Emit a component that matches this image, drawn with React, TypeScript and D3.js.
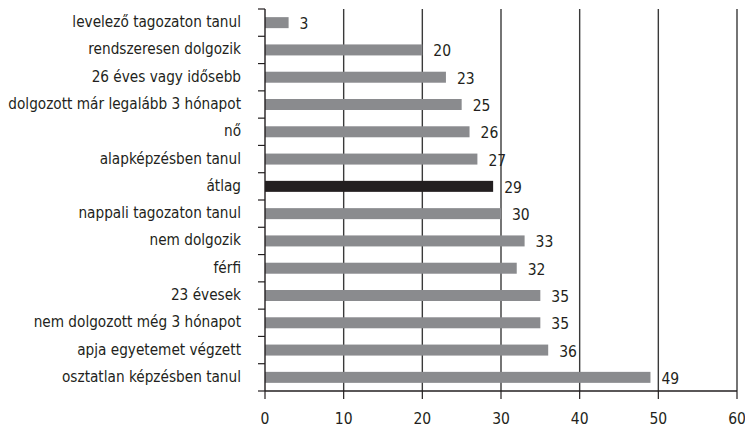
import React from "react";
import * as d3 from "d3";

const categories = [
  "levelező tagozaton tanul",
  "rendszeresen dolgozik",
  "26 éves vagy idősebb",
  "dolgozott már legalább 3 hónapot",
  "nő",
  "alapképzésben tanul",
  "átlag",
  "nappali tagozaton tanul",
  "nem dolgozik",
  "férfi",
  "23 évesek",
  "nem dolgozott még 3 hónapot",
  "apja egyetemet végzett",
  "osztatlan képzésben tanul",
];
const values = [3, 20, 23, 25, 26, 27, 29, 30, 33, 32, 35, 35, 36, 49];
const highlight = "átlag";
const xTicks = [0, 10, 20, 30, 40, 50, 60];

const W = 745;
const H = 426;
const left = 265;
const right = 737;
const top = 9;
const bottom = 391;
const FONT = "'DejaVu Sans Condensed', 'Liberation Sans Narrow', Arial, sans-serif";

export default function App() {
  const x = d3.scaleLinear().domain([0, 60]).range([left, right]);
  const y = d3.scaleBand<string>().domain(categories).range([top, bottom]).paddingInner(0).paddingOuter(0);
  const bw = y.bandwidth();
  const barH = 11;
  const boundaries = d3.range(categories.length + 1).map((i) => top + i * bw);

  return (
    <svg width={W} height={H} style={{ position: "absolute", left: 0, top: 0, background: "#fff" }} fontFamily={FONT}>
      {/* gridlines */}
      {xTicks.filter((t) => t > 0).map((t) => (
        <line key={"g" + t} x1={x(t)} x2={x(t)} y1={top} y2={bottom} stroke="#3a3a3a" strokeWidth={1.4} />
      ))}
      {/* bars */}
      {categories.map((c, i) => (
        <rect
          key={c}
          x={x(0)}
          y={(y(c) as number) + bw / 2 - barH / 2}
          width={x(values[i]) - x(0)}
          height={barH}
          fill={c === highlight ? "#231f20" : "#8a8b8e"}
        />
      ))}
      {/* value labels */}
      {categories.map((c, i) => (
        <text
          key={"v" + c}
          x={x(values[i]) + 11}
          y={(y(c) as number) + bw / 2 + 2}
          dominantBaseline="middle"
          fontSize={15.5}
          fill="#231f20"
        >
          {values[i]}
        </text>
      ))}
      {/* category labels */}
      {categories.map((c) => (
        <text
          key={"c" + c}
          x={241}
          y={(y(c) as number) + bw / 2}
          dominantBaseline="middle"
          textAnchor="end"
          fontSize={15.2}
          fill="#231f20"
        >
          {c}
        </text>
      ))}
      {/* y axis */}
      <line x1={left} x2={left} y1={top} y2={bottom} stroke="#231f20" strokeWidth={1.4} />
      {boundaries.map((b, i) => (
        <line key={"yt" + i} x1={left - 7} x2={left} y1={b} y2={b} stroke="#231f20" strokeWidth={1.2} />
      ))}
      {/* x axis */}
      <line x1={left} x2={right} y1={bottom} y2={bottom} stroke="#231f20" strokeWidth={1.4} />
      {xTicks.map((t) => (
        <g key={"xt" + t}>
          <line x1={x(t)} x2={x(t)} y1={bottom} y2={bottom + 8} stroke="#231f20" strokeWidth={1.2} />
          <text x={x(t)} y={419} textAnchor="middle" dominantBaseline="middle" fontSize={15.5} fill="#231f20">
            {t}
          </text>
        </g>
      ))}
    </svg>
  );
}
